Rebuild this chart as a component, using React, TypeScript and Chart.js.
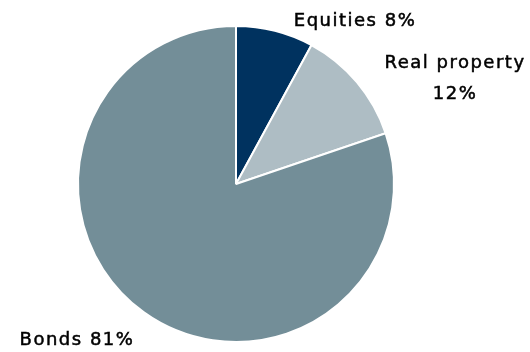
import React, { useEffect, useRef } from "react";
import { Chart, registerables } from "chart.js";

Chart.register(...registerables);

const categories = ["Equities", "Real property", "Bonds"];
const shares = [8, 12, 81];
const colors = ["#00325f", "#aebdc4", "#738e98"];
// label lines per category
const labelLines = [["Equities 8%"], ["Real property", "12%"], ["Bonds 81%"]];
// label anchor offsets from pie centre (px) and line height
const labelOffsets = [
  [119, -158],
  [219, -116],
  [-159, 161],
];
const lineHeight = 31;

const labelPlugin = {
  id: "outerLabels",
  afterDraw(chart: any) {
    const ctx = chart.ctx;
    const meta = chart.getDatasetMeta(0);
    ctx.save();
    ctx.fillStyle = "#000000";
    ctx.strokeStyle = "#000000";
    ctx.lineWidth = 0.5;
    ctx.font = "18px 'DejaVu Sans'";
    ctx.textAlign = "center";
    ctx.textBaseline = "alphabetic";
    try { (ctx as any).letterSpacing = "1.5px"; } catch (e) {}
    meta.data.forEach((arc: any, i: number) => {
      const cx = arc.x;
      const cy = arc.y;
      const [dx, dy] = labelOffsets[i];
      labelLines[i].forEach((line, j) => {
        ctx.fillText(line, cx + dx, cy + dy + j * lineHeight);
        ctx.strokeText(line, cx + dx, cy + dy + j * lineHeight);
      });
    });
    ctx.restore();
  },
};

export default function App() {
  const ref = useRef<HTMLCanvasElement | null>(null);
  useEffect(() => {
    if (!ref.current) return;
    const chart = new Chart(ref.current, {
      type: "pie",
      data: {
        labels: categories,
        datasets: [
          {
            data: shares,
            backgroundColor: colors,
            borderColor: "#ffffff",
            borderWidth: 2,
          },
        ],
      },
      options: {
        animation: false,
        responsive: true,
        maintainAspectRatio: false,
        layout: { padding: { left: 77, right: 135, top: 25, bottom: 9 } },
        plugins: {
          legend: { display: false },
          tooltip: { enabled: false },
        },
      },
      plugins: [labelPlugin],
    });
    return () => chart.destroy();
  }, []);
  return (
    <div style={{ position: "absolute", left: 0, top: 0, width: 530, height: 352, background: "#ffffff" }}>
      <canvas ref={ref} />
    </div>
  );
}
